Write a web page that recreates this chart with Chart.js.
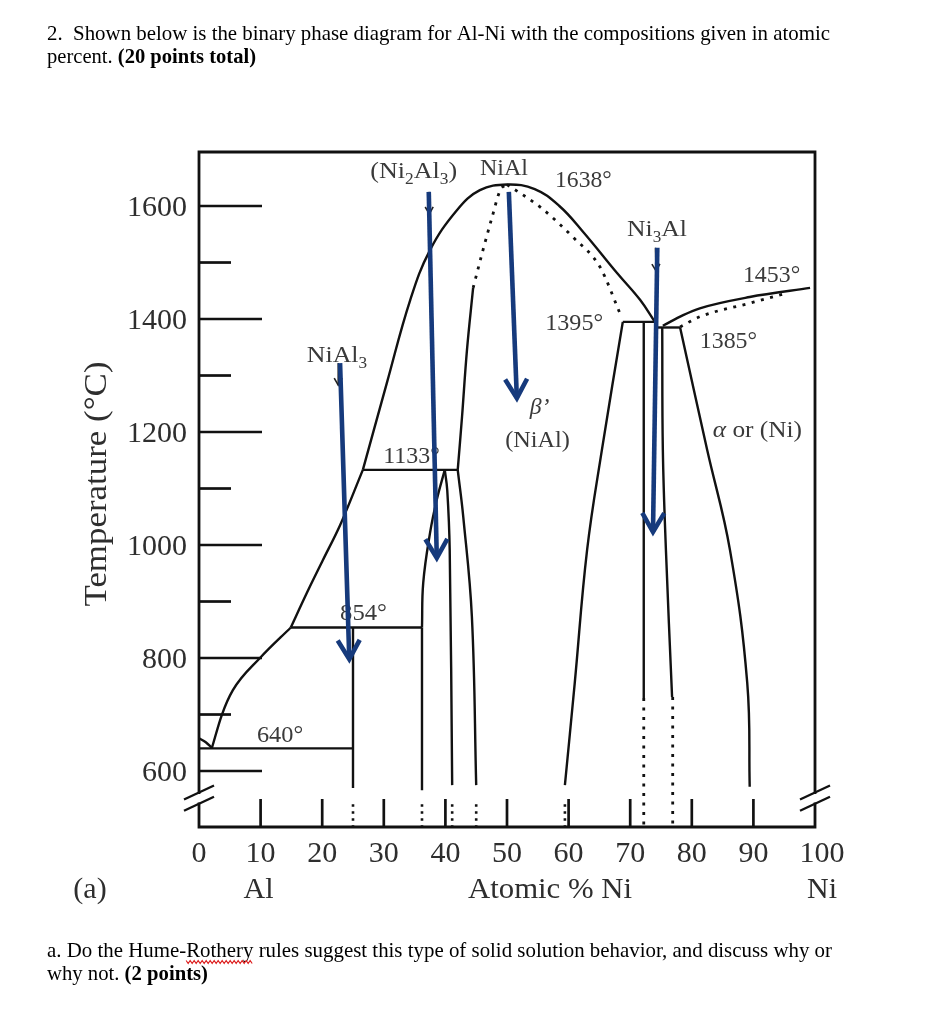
<!DOCTYPE html>
<html><head><meta charset="utf-8">
<script src="https://cdn.jsdelivr.net/npm/chart.js@4/dist/chart.umd.min.js"></script>
<style>html,body{margin:0;padding:0;background:#fff;}canvas{display:block;}</style>
</head><body>
<canvas id="c" width="926" height="1024"></canvas>
<script>
// ---------- tick values / labels ----------
const xTickMarks = [10,20,30,40,50,60,70,80,90];
const xTickValues = [0,10,20,30,40,50,60,70,80,90,100];
const xTickLabels = ['0','10','20','30','40','50','60','70','80','90','100'];
const yMajorTicks = [600,800,1000,1200,1400,1600];
const yMinorTicks = [700,900,1100,1300,1500];
const yTickLabels = ['600','800','1000','1200','1400','1600'];

// ---------- phase boundaries (x = atomic % Ni, y = temperature °C) ----------
const alLiquidus      = [[0,658],[1.1,651],[2.1,641]];
const liquidusLow     = [[2.1,641],[3.7,699],[5.5,743],[9.9,800],[14.9,854]];
const liquidusMid     = [[14.9,854],[17.5,915],[20.1,973],[22.9,1035],[26.6,1133]];
const liquidusDome    = [[26.6,1133],[30.5,1287],[34.3,1434],[37.5,1522],[41.9,1593],[45.6,1628],[50,1638],[54.5,1630],[58.5,1600],[62.3,1555],[67.9,1481],[71.6,1434],[74.0,1395]];
const eutectic640     = [[0,640],[25,640]];
const peritectic854   = [[14.9,854],[36.2,854]];
const peritectic1133  = [[26.6,1133],[42.0,1133]];
const niAl3Line       = [[25,854],[25,570]];
const ni2Al3Vertical  = [[36.2,854],[36.2,566]];
const ni2Al3LeftCurve = [[36.2,854],[36.4,933],[37.5,1021],[38.6,1080],[39.9,1133]];
const ni2Al3Right     = [[39.9,1133],[40.3,1097],[40.7,991],[41.1,575]];
const niAlLeftLow     = [[42.0,1133],[42.9,1050],[44.3,873],[45.0,575]];
const niAlLeftHigh    = [[42.0,1133],[42.7,1227],[43.5,1345],[44.5,1455]];
const niAlLeftDotted  = [[44.5,1455],[46.1,1522],[47.6,1581],[48.9,1628],[50,1638]];
const niAlRightDotted = [[50,1638],[55.4,1598],[60.7,1545],[65.1,1492],[68.3,1411]];
const peritectic1395  = [[68.8,1395],[74.0,1395]];
const niAlRight       = [[68.8,1395],[65.4,1168],[63.0,991],[61.0,756],[59.4,575]];
const ni3AlLeft       = [[72.2,1395],[72.2,729]];
const ni3AlLeftDotted = [[72.2,729],[72.2,501]];
const ni3AlRight      = [[75.2,1385],[75.3,1168],[75.8,991],[76.8,731]];
const ni3AlRightDotted= [[76.9,731],[76.9,501]];
const eutectic1385    = [[74.4,1385],[78.1,1385]];
const niLiquidus      = [[75.3,1388],[78.6,1407],[81.3,1419],[89.4,1439],[99.2,1455]];
const niSolidus       = [[78.1,1386],[81.3,1404],[89.4,1428],[94.8,1444]];
const alphaBoundary   = [[78.1,1385],[82.5,1168],[86.2,991],[89.0,756],[89.4,572]];
const axisDotMarks    = [25,36.2,41.1,45.0,59.4];
const axisDotRange    = [541,501];

// ---------- added arrows ----------
const arrowNiAl3  = [[22.9,1322],[24.4,798]];
const arrowNi2Al3 = [[37.3,1625],[38.6,977]];
const arrowNiAl   = [[50.3,1625],[51.6,1260]];
const arrowNi3Al  = [[74.4,1526],[73.7,1023]];
const smallArrows = [[[37.3,1625],[37.4,1586]],[[22.6,1322],[22.6,1283]],[[74.1,1526],[74.2,1485]]];

// ---------- texts ----------
const SERIF = "'Liberation Serif','Times New Roman',serif";
const diagramLabels = [
  {parts:[['(Ni','n'],['2','s'],['Al','n'],['3','s'],[')','n']], x1:27.8, x2:41.9, t:1650},
  {parts:[['NiAl','n']], x1:45.6, x2:53.4, t:1655},
  {parts:[['1638°','n']], x1:57.8, x2:67.0, t:1634},
  {parts:[['Ni','n'],['3','s'],['Al','n']], x1:69.5, x2:79.2, t:1547},
  {parts:[['1453°','n']], x1:88.3, x2:97.6, t:1466},
  {parts:[['1395°','n']], x1:56.2, x2:65.6, t:1381},
  {parts:[['1385°','n']], x1:81.3, x2:90.6, t:1349},
  {parts:[['β’','i']], x1:53.7, x2:56.9, t:1232},
  {parts:[['(NiAl)','n']], x1:49.7, x2:60.2, t:1174},
  {parts:[['α','i'],[' or (Ni)','n']], x1:83.4, x2:97.9, t:1191},
  {parts:[['NiAl','n'],['3','s']], x1:17.5, x2:27.3, t:1324},
  {parts:[['1133°','n']], x1:29.9, x2:39.1, t:1145},
  {parts:[['854°','n']], x1:22.9, x2:30.5, t:867},
  {parts:[['640°','n']], x1:9.4, x2:16.9, t:651}
];
const titleLine1 = '2.  Shown below is the binary phase diagram for Al-Ni with the compositions given in atomic';
const titleLine2 = ['percent. ', '(20 points total)'];
const footLine1a = 'a. Do the Hume-';
const footWord   = 'Rothery';
const footLine1b = ' rules suggest this type of solid solution behavior, and discuss why or';
const footLine2  = ['why not. ', '(2 points)'];
const yAxisTitle = 'Temperature (°C)';
const xAxisTitle = 'Atomic % Ni';
const xEndLeft = 'Al', xEndRight = 'Ni', panelTag = '(a)';

// ---------- helpers ----------
const pts = a => a.map(p => ({x:p[0], y:p[1]}));
function seg(arr, o) {
  return Object.assign({data: pts(arr), showLine:true, pointRadius:0, pointHoverRadius:0,
    borderColor:'#111', borderWidth:2.4, tension:0, fill:false, order:2, borderCapStyle:'butt'}, o||{});
}
const BEZ = {tension:0.4};
const MONO = {cubicInterpolationMode:'monotone', tension:0.4};
const DOT = {borderDash:[3,6.5], borderWidth:2.8};
const DOTCURVE = Object.assign({}, MONO, DOT);
const BLUE = {borderColor:'#163a7c', borderWidth:4.6, order:0};

const datasets = [
  seg(arrowNiAl3, BLUE), seg(arrowNi2Al3, BLUE), seg(arrowNiAl, BLUE), seg(arrowNi3Al, BLUE),
  seg(alLiquidus, MONO), seg(liquidusLow, MONO), seg(liquidusMid, MONO), seg(liquidusDome, BEZ),
  seg(eutectic640), seg(peritectic854), seg(peritectic1133), seg(niAl3Line),
  seg(ni2Al3Vertical), seg(ni2Al3LeftCurve, BEZ), seg(ni2Al3Right, BEZ),
  seg(niAlLeftLow, BEZ), seg(niAlLeftHigh, BEZ),
  seg(niAlLeftDotted, DOTCURVE), seg(niAlRightDotted, DOTCURVE),
  seg(peritectic1395), seg(niAlRight, BEZ),
  seg(ni3AlLeft), seg(ni3AlLeftDotted, DOT), seg(ni3AlRight, BEZ), seg(ni3AlRightDotted, DOT),
  seg(eutectic1385), seg(niLiquidus, MONO), seg(niSolidus, DOTCURVE),
  seg(alphaBoundary, BEZ)
];
axisDotMarks.forEach(v => datasets.push(seg([[v,axisDotRange[0]],[v,axisDotRange[1]]], {borderDash:[2.5,4.5], borderWidth:2.6})));

function drawRuns(ctx, runs, x, y, targetW, align) {
  let w = 0;
  runs.forEach(r => { ctx.font = r.f; r.w = ctx.measureText(r.t).width; w += r.w; });
  const s = targetW ? targetW / w : 1;
  ctx.save(); ctx.translate(x, y); ctx.scale(s, 1);
  let ox = align === 'center' ? -w/2 : (align === 'right' ? -w : 0);
  const pos = [];
  runs.forEach(r => { ctx.font = r.f; ctx.fillText(r.t, ox, r.dy || 0); pos.push([x + ox*s, x + (ox + r.w)*s]); ox += r.w; });
  ctx.restore();
  return pos;
}
function head(ctx, p1, p2, len, half) {
  const dx = p2.x - p1.x, dy = p2.y - p1.y, L = Math.hypot(dx, dy);
  const ux = dx/L, uy = dy/L, nx = -uy, ny = ux;
  const bx = p2.x - ux*len, by = p2.y - uy*len;
  ctx.beginPath();
  ctx.moveTo(bx + nx*half, by + ny*half);
  ctx.lineTo(p2.x, p2.y);
  ctx.lineTo(bx - nx*half, by - ny*half);
  ctx.stroke();
}

const phasePlugin = {
  id: 'phase',
  beforeDatasetsDraw(chart) {
    const ctx = chart.ctx, xs = chart.scales.x, ys = chart.scales.y;
    ctx.save();
    ctx.fillStyle = '#3a3a3a';
    ctx.textBaseline = 'alphabetic';
    diagramLabels.forEach(L => {
      const runs = L.parts.map(p => {
        if (p[1] === 's') return {t:p[0], f:'16px ' + SERIF, dy:6};
        if (p[1] === 'i') return {t:p[0], f:'italic 24px ' + SERIF};
        return {t:p[0], f:'24px ' + SERIF};
      });
      const x1 = xs.getPixelForValue(L.x1), x2 = xs.getPixelForValue(L.x2);
      drawRuns(ctx, runs, x1, ys.getPixelForValue(L.t), x2 - x1, 'left');
    });
    ctx.strokeStyle = '#222'; ctx.lineWidth = 1.6;
    smallArrows.forEach(a => {
      const p1 = {x:xs.getPixelForValue(a[0][0]), y:ys.getPixelForValue(a[0][1])};
      const p2 = {x:xs.getPixelForValue(a[1][0]), y:ys.getPixelForValue(a[1][1])};
      ctx.beginPath(); ctx.moveTo(p1.x, p1.y); ctx.lineTo(p2.x, p2.y); ctx.stroke();
      head(ctx, p1, p2, 7, 4);
    });
    const left = chart.chartArea.left;
    ctx.strokeStyle = '#111'; ctx.lineWidth = 2.7;
    yMajorTicks.forEach(v => { const y = ys.getPixelForValue(v); ctx.beginPath(); ctx.moveTo(left, y); ctx.lineTo(left + 63, y); ctx.stroke(); });
    yMinorTicks.forEach(v => { const y = ys.getPixelForValue(v); ctx.beginPath(); ctx.moveTo(left, y); ctx.lineTo(left + 32, y); ctx.stroke(); });
    const bottom = chart.chartArea.bottom;
    xTickMarks.forEach(v => { const x = xs.getPixelForValue(v); ctx.beginPath(); ctx.moveTo(x, bottom); ctx.lineTo(x, bottom - 28); ctx.stroke(); });
    ctx.restore();
  },
  afterDatasetsDraw(chart) {
    const ctx = chart.ctx, xs = chart.scales.x, ys = chart.scales.y, a = chart.chartArea;
    ctx.save();
    ctx.strokeStyle = '#163a7c'; ctx.lineWidth = 4.6; ctx.lineJoin = 'miter'; ctx.lineCap = 'butt';
    [arrowNiAl3, arrowNi2Al3, arrowNiAl, arrowNi3Al].forEach(arr => {
      const p1 = {x:xs.getPixelForValue(arr[0][0]), y:ys.getPixelForValue(arr[0][1])};
      const p2 = {x:xs.getPixelForValue(arr[1][0]), y:ys.getPixelForValue(arr[1][1])};
      head(ctx, p1, p2, 19, 11);
    });
    ctx.strokeStyle = '#111'; ctx.lineWidth = 2.8; ctx.lineCap = 'square';
    const bHigh = ys.getPixelForValue(562), bLow = ys.getPixelForValue(542);
    ctx.beginPath();
    ctx.moveTo(a.left, bHigh); ctx.lineTo(a.left, a.top); ctx.lineTo(a.right, a.top); ctx.lineTo(a.right, bHigh);
    ctx.moveTo(a.left, bLow); ctx.lineTo(a.left, a.bottom); ctx.lineTo(a.right, a.bottom); ctx.lineTo(a.right, bLow);
    ctx.stroke();
    ctx.lineWidth = 2.4; ctx.lineCap = 'butt';
    [a.left, a.right].forEach(x => {
      [bHigh, bLow].forEach(y => { ctx.beginPath(); ctx.moveTo(x - 15, y + 7); ctx.lineTo(x + 15, y - 7); ctx.stroke(); });
    });
    ctx.restore();
  },
  afterDraw(chart) {
    const ctx = chart.ctx, xs = chart.scales.x, ys = chart.scales.y, a = chart.chartArea;
    ctx.save();
    ctx.textBaseline = 'alphabetic';
    const F30 = '30px ' + SERIF;
    ctx.fillStyle = '#2e2e2e';
    yMajorTicks.forEach((v, i) => {
      drawRuns(ctx, [{t:yTickLabels[i], f:F30}], a.left - 12, ys.getPixelForValue(v) + 10, 0, 'right');
    });
    xTickValues.forEach((v, i) => {
      const off = (v === 100) ? 7 : 0;
      drawRuns(ctx, [{t:xTickLabels[i], f:F30}], xs.getPixelForValue(v) + off, 862, 0, 'center');
    });
    drawRuns(ctx, [{t:panelTag, f:F30}], 90, 898, 0, 'center');
    drawRuns(ctx, [{t:xEndLeft, f:F30}], xs.getPixelForValue(10) - 2, 898, 0, 'center');
    drawRuns(ctx, [{t:xAxisTitle, f:F30}], 550, 898, 164, 'center');
    drawRuns(ctx, [{t:xEndRight, f:F30}], xs.getPixelForValue(100) + 7, 898, 0, 'center');
    ctx.save(); ctx.translate(106, 484); ctx.rotate(-Math.PI/2);
    drawRuns(ctx, [{t:yAxisTitle, f:'32px ' + SERIF}], 0, 0, 245, 'center');
    ctx.restore();
    ctx.fillStyle = '#000';
    const N = '21px ' + SERIF, B = 'bold 21px ' + SERIF;
    drawRuns(ctx, [{t:titleLine1, f:N}], 47, 40, 783, 'left');
    drawRuns(ctx, [{t:titleLine2[0], f:N}, {t:titleLine2[1], f:B}], 47, 63, 209, 'left');
    const pos = drawRuns(ctx, [{t:footLine1a, f:N}, {t:footWord, f:N}, {t:footLine1b, f:N}], 47, 957, 785, 'left');
    drawRuns(ctx, [{t:footLine2[0], f:N}, {t:footLine2[1], f:B}], 47, 980, 161, 'left');
    ctx.strokeStyle = '#d22'; ctx.lineWidth = 1.2;
    ctx.beginPath();
    const sx = pos[1][0], ex = pos[1][1];
    for (let x = sx, k = 0; x <= ex; x += 2, k++) { const y = 962 + (k % 2 ? 1.5 : -1.5); if (k === 0) ctx.moveTo(x, y); else ctx.lineTo(x, y); }
    ctx.stroke();
    ctx.restore();
  }
};

new Chart(document.getElementById('c'), {
  type: 'scatter',
  data: {datasets: datasets},
  options: {
    responsive: false, animation: false, devicePixelRatio: 1,
    layout: {padding: {left:199, right:111, top:152, bottom:197}},
    scales: {
      x: {type:'linear', min:0, max:100, display:false},
      y: {type:'linear', min:500.9, max:1695.6, display:false}
    },
    plugins: {legend:{display:false}, tooltip:{enabled:false}},
    events: []
  },
  plugins: [phasePlugin]
});
</script>
</body></html>
